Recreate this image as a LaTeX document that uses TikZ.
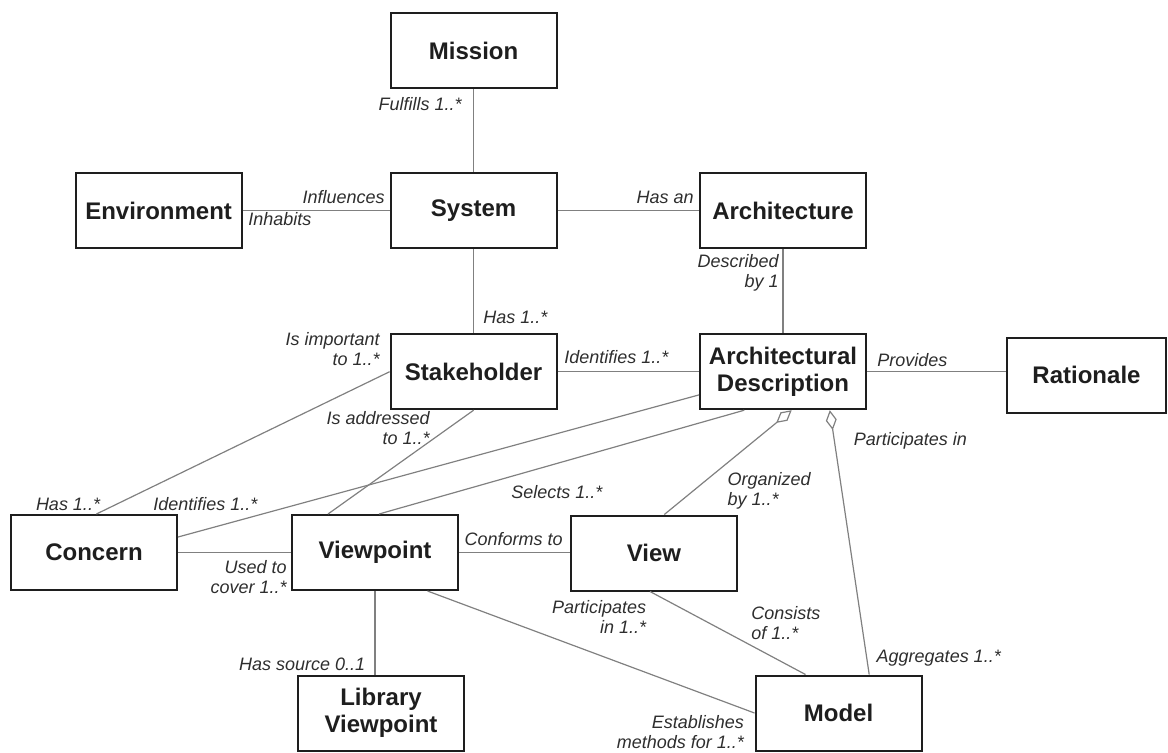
\documentclass[tikz,border=0pt]{standalone}
\usepackage{fontspec}
\setmainfont{Liberation Sans}
\usepackage{tikz}
\usetikzlibrary{arrows.meta}
\definecolor{boxline}{HTML}{1E1E1E}
\definecolor{linkgray}{HTML}{808080}
\definecolor{notegray}{HTML}{2E2E2E}

\begin{document}
\begin{tikzpicture}[
    x=0.5pt, y=-0.5pt,
    entity/.style={rectangle, draw=boxline, line width=1pt, minimum width=83pt, minimum height=37.5pt, inner sep=1pt, align=center, font=\bfseries\fontsize{12}{13.5}\selectfont, text=boxline, fill=white},
    role/.style={inner sep=0pt, font=\itshape\fontsize{9}{10}\selectfont, text=notegray},
    link/.style={draw=linkgray, line width=0.6pt},
    agg/.style={link, {Diamond[open, length=10pt, width=5.5pt]}-}
]
\useasboundingbox (0,0) rectangle (1168,752);

\node[entity] (mission) at (473.6,50.5) {Mission};
\node[entity] (system) at (473.6,210.5) {System};
\node[entity] (environment) at (158.6,210.5) {Environment};
\node[entity] (architecture) at (783,210.5) {Architecture};
\node[entity] (stakeholder) at (473.6,371.7) {Stakeholder};
\node[entity] (archdesc) at (783,371.7) {Architectural\\Description};
\node[entity, minimum width=79.5pt] (rationale) at (1086.5,375) {Rationale};
\node[entity] (concern) at (94,552.5) {Concern};
\node[entity] (viewpoint) at (375,552.5) {Viewpoint};
\node[entity] (view) at (654,553) {View};
\node[entity] (libview) at (381,713) {Library\\Viewpoint};
\node[entity] (model) at (838.5,713) {Model};

\draw[link] (mission) -- (system);
\draw[link] (environment) -- (system);
\draw[link] (system) -- (architecture);
\draw[link] (architecture) -- (archdesc);
\draw[link] (system) -- (stakeholder);
\draw[link] (stakeholder) -- (archdesc);
\draw[link] (archdesc.east) -- (archdesc.east -| rationale.west);
\draw[link] (stakeholder.west) -- ([xshift=1.2pt]concern.north);
\draw[link] (stakeholder.south) -- ([xshift=-23.5pt]viewpoint.north);
\draw[link] ([yshift=7.75pt]concern.east) -- ([yshift=-11.6pt]archdesc.west);
\draw[link] ([xshift=2pt]viewpoint.north) -- ([xshift=-19.35pt]archdesc.south);
\draw[link] (concern) -- (viewpoint);
\draw[link] (viewpoint.east) -- (viewpoint.east -| view.west);
\draw[link] (viewpoint.south) -- (viewpoint.south |- libview.north);
\draw[link] ([xshift=26.25pt]viewpoint.south) -- (model.west);
\draw[link] ([xshift=-2pt]view.south) -- ([xshift=-16.5pt]model.north);
\draw[agg] ([xshift=4.35pt]archdesc.south) -- ([xshift=5.15pt]view.north);
\draw[agg] ([xshift=23.4pt]archdesc.south) -- ([xshift=15.35pt]model.north);

\node[role, anchor=east] (fulfills) at (462,104) {Fulfills 1..*};
\node[role, anchor=east] (influences) at (385,197) {Influences};
\node[role, anchor=west] (inhabits) at (248,219.5) {Inhabits};
\node[role, anchor=east] (hasan) at (694,197) {Has an};
\node[role, anchor=east, align=right] (describedby) at (779,272.7) {Described\\by 1};
\node[role, anchor=west] (hasstake) at (483,317) {Has 1..*};
\node[role, anchor=east, align=right] (important) at (380,349.3) {Is important\\to 1..*};
\node[role, anchor=west] (identstake) at (564,356.7) {Identifies 1..*};
\node[role, anchor=west] (provides) at (877,360.5) {Provides};
\node[role, anchor=east, align=right] (addressed) at (430,428.3) {Is addressed\\to 1..*};
\node[role, anchor=west] (participates) at (853.5,440.7) {Participates in};
\node[role, anchor=west, align=left] (organized) at (727.3,490.7) {Organized\\by 1..*};
\node[role, anchor=west] (selects) at (511,491.7) {Selects 1..*};
\node[role, anchor=west] (hasconcern) at (35.6,504) {Has 1..*};
\node[role, anchor=west] (identconcern) at (153,504) {Identifies 1..*};
\node[role, anchor=west] (conforms) at (464.2,539) {Conforms to};
\node[role, anchor=east, align=right] (usedto) at (287,577.5) {Used to\\cover 1..*};
\node[role, anchor=east, align=right] (partview) at (646.6,617.3) {Participates\\in 1..*};
\node[role, anchor=west, align=left] (consists) at (751,623) {Consists\\of 1..*};
\node[role, anchor=west] (aggregates) at (876.3,658.3) {Aggregates 1..*};
\node[role, anchor=east] (hassource) at (365.5,664.3) {Has source 0..1};
\node[role, anchor=east, align=right] (establishes) at (744.3,731.7) {Establishes\\methods for 1..*};
\end{tikzpicture}
\end{document}
